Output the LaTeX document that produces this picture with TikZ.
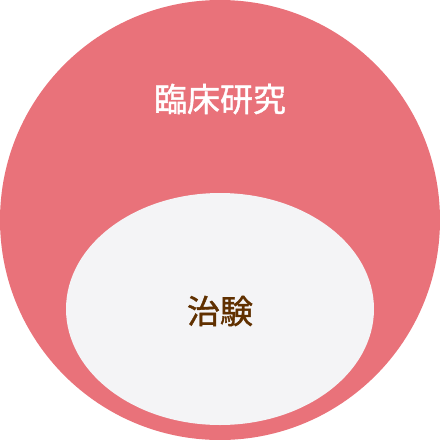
\documentclass[tikz,border=0pt]{standalone}
\usepackage{fontspec}
\newfontfamily\cjk[FakeBold=1.2]{Noto Sans CJK JP}
\definecolor{outerpink}{RGB}{233,114,122}
\definecolor{innerwhite}{RGB}{244,244,246}
\definecolor{textbrown}{RGB}{96,48,0}
\begin{document}
\begin{tikzpicture}[x=1pt,y=-1pt,
  lbl/.style={font=\cjk\fontsize{33}{33}\selectfont, inner sep=0pt}]
\useasboundingbox (0,0) rectangle (440,440);
\fill[outerpink] (220,220) circle[radius=220];
\fill[innerwhite] (220,309) ellipse[x radius=154, y radius=116];
\node[lbl, text=white] (outer) at (220,99) {臨床研究};
\node[lbl, text=textbrown] (inner) at (220,311) {治験};
\end{tikzpicture}
\end{document}
